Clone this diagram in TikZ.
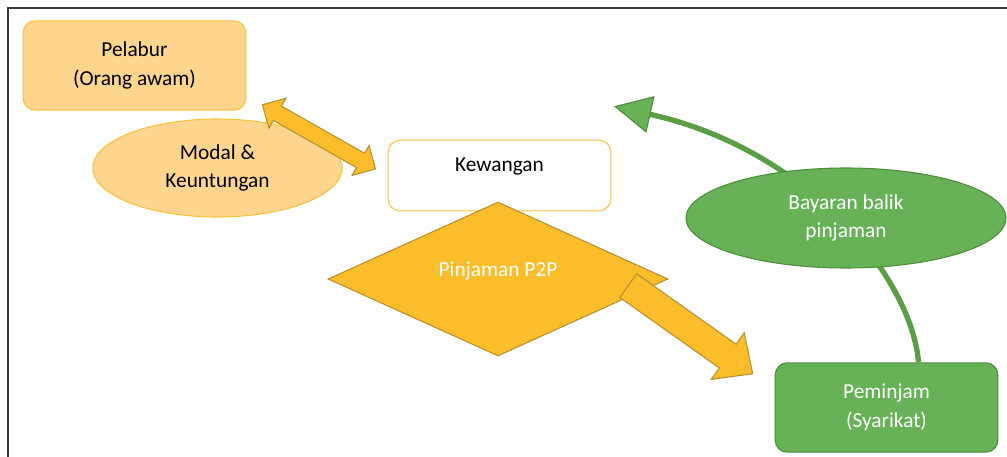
\documentclass[tikz,border=0pt]{standalone}
\usepackage{fontspec}
\setmainfont{Carlito}
\usetikzlibrary{shapes.geometric,shapes.arrows,arrows.meta,calc}

\definecolor{oren}{HTML}{FDD58D}
\definecolor{orentepi}{HTML}{F9C23C}
\definecolor{emas}{HTML}{FBBD2A}
\definecolor{emastepi}{HTML}{B8912E}
\definecolor{hijau}{HTML}{67B257}
\definecolor{hijautepi}{HTML}{4E8B3A}
\definecolor{hijaulengkung}{HTML}{5A9E47}
\definecolor{bingkai}{HTML}{3A3A3A}

\tikzset{
	kotak/.style={rectangle, rounded corners=9pt, minimum width=167pt, minimum height=67pt, inner sep=0pt, align=center, line width=0.8pt},
	bujur/.style={ellipse, inner sep=0pt, align=center, line width=0.8pt},
	panahdua/.style={double arrow, fill=emas, draw=emastepi, line width=0.8pt, inner xsep=0pt, inner ysep=5.75pt, double arrow head extend=6.75pt, double arrow tip angle=90, minimum width=1pt},
	panahsatu/.style={single arrow, fill=emas, draw=emastepi, line width=0.8pt, inner xsep=0pt, inner ysep=10.5pt, single arrow head extend=10.5pt, single arrow tip angle=86, minimum width=1pt}
}

\begin{document}
\begin{tikzpicture}[x=0.75pt, y=-0.75pt, font=\fontsize{16}{21.5}\selectfont]
	\useasboundingbox (0,0) rectangle (1007,457);
	\draw[bingkai, line width=1.5pt] (7.7,457) -- (7.7,7.7) -- (1007,7.7);

	\node[kotak, fill=oren, draw=orentepi] (pel) at (134.5,65.5) {Pelabur\\(Orang awam)};
	\node[bujur, fill=oren, draw=orentepi, minimum width=187pt, minimum height=73.5pt] (modal) at (217.5,168) {Modal \&\\Keuntungan};
	\node[kotak, fill=white, draw=orentepi, minimum height=53pt, text height=11pt, text depth=17pt] (kew) at (499.5,175.5) {Kewangan};
	\node[diamond, fill=emas, draw=emastepi, line width=0.8pt, inner sep=0pt, minimum width=255pt, minimum height=115.5pt, text=white, text height=11pt, text depth=15pt] (p2p) at (498,279) {Pinjaman P2P};
	\node[kotak, fill=hijau, draw=hijautepi, text=white] (pem) at (886.5,407.5) {Peminjam\\(Syarikat)};

	\coordinate (hujung) at ([xshift=2pt,yshift=25pt]kew.north east);
	\draw[hijaulengkung, line width=4pt, -{Triangle[width=28pt,length=28pt,fill=hijau,color=hijautepi,line width=0.8pt]}] ([xshift=24pt]pem.north) .. controls (912,280) and (810,150) .. (hujung);
	\node[bujur, fill=hijau, draw=hijautepi, text=white, minimum width=240pt, minimum height=75pt] (bayar) at (846,218) {Bayaran balik\\pinjaman};

	\path let \p1=([xshift=12pt,yshift=4.5pt]pel.south east), \p2=([xshift=-9pt,yshift=4.9pt]kew.west), \p3=($(\p2)-(\p1)$) in node[panahdua, minimum height={veclen(\x3,\y3)}, rotate={atan2(\y3,\x3)}] (modalkew) at ($(\p1)!0.5!(\p2)$) {};
	\path let \p1=([xshift=-35pt,yshift=-1.6pt]p2p.east), \p2=([xshift=-21.2pt,yshift=-5.25pt]pem.north west), \p3=($(\p2)-(\p1)$) in node[panahsatu, minimum height={veclen(\x3,\y3)}, rotate={atan2(\y3,\x3)}] (p2ppem) at ($(\p1)!0.5!(\p2)$) {};
\end{tikzpicture}
\end{document}
